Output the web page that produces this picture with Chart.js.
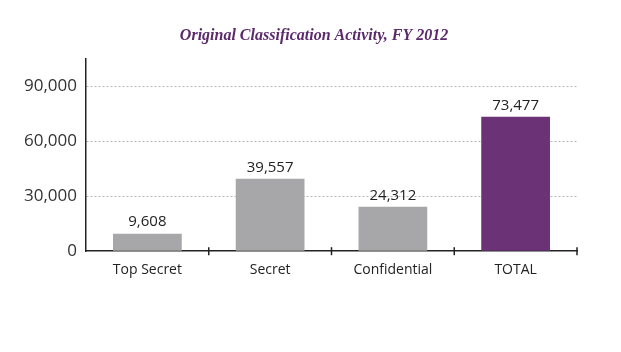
<!DOCTYPE html>
<html>
<head>
<meta charset="utf-8">
<script src="https://cdn.jsdelivr.net/npm/chart.js@4/dist/chart.umd.min.js"></script>
<style>
  html, body { margin: 0; padding: 0; background: #fff; }
  #wrap { width: 621px; height: 352px; }
</style>
</head>
<body>
<div id="wrap"><canvas id="activity"></canvas></div>
<script>
var categories = ["Top Secret", "Secret", "Confidential", "TOTAL"];
var counts = [9608, 39557, 24312, 73477];
var yTicks = [0, 30000, 60000, 90000];

var barColors = ["#a7a7a9", "#a7a7a9", "#a7a7a9", "#6b3276"];

function fmt(v) {
	return v.toLocaleString("en-US");
}

// value labels above each bar
var valueLabels = {
	id: "valueLabels",
	afterDatasetsDraw: function(chart) {
		var ctx = chart.ctx;
		var meta = chart.getDatasetMeta(0);
		ctx.save();
		ctx.font = "15px 'Open Sans'";
		ctx.fillStyle = "#222";
		ctx.textAlign = "center";
		ctx.textBaseline = "bottom";
		meta.data.forEach(function(bar, i) {
			ctx.fillText(fmt(counts[i]), bar.x, bar.y - 4);
		});
		ctx.restore();
	}
};

// small tick marks crossing the x axis at category boundaries
var boundaryTicks = {
	id: "boundaryTicks",
	afterDraw: function(chart) {
		var ctx = chart.ctx;
		var x = chart.scales.x;
		var y0 = chart.scales.y.getPixelForValue(0);
		ctx.save();
		ctx.strokeStyle = "#222";
		ctx.lineWidth = 1.5;
		for (var i = 1; i <= categories.length; i++) {
			var px = (x.getPixelForValue(i - 1) + x.getPixelForValue(i)) / 2;
			if (i === categories.length) px = x.right;
			ctx.beginPath();
			ctx.moveTo(px, y0 - 4);
			ctx.lineTo(px, y0 + 4);
			ctx.stroke();
		}
		ctx.restore();
	}
};

// centre the title on the whole page rather than the padded box
var titleWide = {
	id: "titleWide",
	afterLayout: function(chart) {
		chart.titleBlock.left = 7;
		chart.titleBlock.right = chart.width;
	}
};

var chart = new Chart(document.getElementById("activity"), {
	type: "bar",
	data: {
		labels: categories,
		datasets: [{
			data: counts,
			backgroundColor: barColors,
			categoryPercentage: 1,
			barPercentage: 0.56
		}]
	},
	options: {
		responsive: true,
		maintainAspectRatio: false,
		animation: false,
		layout: { padding: { top: 4, right: 44, bottom: 72, left: 15 } },
		plugins: {
			legend: { display: false },
			tooltip: { enabled: false },
			title: {
				display: true,
				text: "Original Classification Activity, FY 2012",
				color: "#5b2a6b",
				font: { family: "'Liberation Serif'", style: "italic", weight: "bold", size: 16 },
				padding: { top: 22, bottom: 14 }
			}
		},
		scales: {
			x: {
				grid: { display: false },
				border: { color: "#222", width: 1.5 },
				ticks: { color: "#222", font: { family: "'Open Sans'", size: 14 }, padding: 2 }
			},
			y: {
				min: 0,
				max: 105000,
				afterBuildTicks: function(axis) {
					axis.ticks = yTicks.map(function(v) { return { value: v }; });
				},
				grid: {
					color: function(c) { return c.tick && c.tick.value === 0 ? "rgba(0,0,0,0)" : "#b8b8b8"; },
					lineWidth: 1,
					drawTicks: false
				},
				border: { color: "#222", width: 1.5, dash: [2, 2] },
				ticks: {
					color: "#333",
					font: { family: "'Open Sans'", size: 17 },
					padding: 9,
					callback: function(v) { return fmt(v); }
				}
			}
		}
	},
	plugins: [valueLabels, boundaryTicks, titleWide]
});
</script>
</body>
</html>
